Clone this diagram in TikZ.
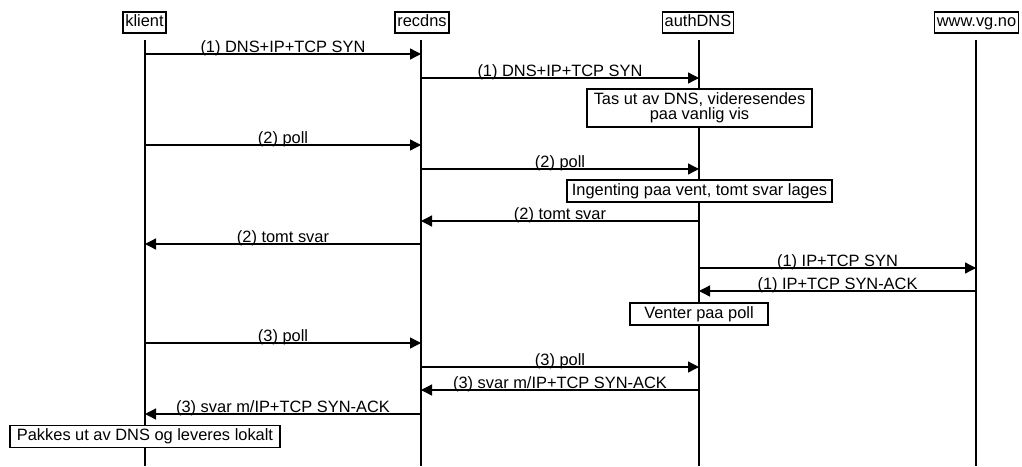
\documentclass[tikz,border=0pt]{standalone}
\usepackage{fontspec}
\setmainfont{Liberation Sans}
\usetikzlibrary{arrows.meta}
\begin{document}
\begin{tikzpicture}[x=1pt,y=-1pt,
  every node/.style={font=\fontsize{16.4}{15}\selectfont},
  actor/.style={draw,line width=1.3pt,inner xsep=2.5pt,inner ysep=0pt,text height=12pt,text depth=3.5pt,minimum height=21pt},
  lifeline/.style={line width=1.4pt},
  note/.style={draw,line width=1.3pt,fill=white,inner sep=0pt,minimum height=22pt,text height=12pt,text depth=3.5pt},
  msg/.style={line width=1.3pt,-{Triangle[length=11pt,width=11pt]}},
  lbl/.style={anchor=base,inner sep=0pt}]
\useasboundingbox (0,0) rectangle (1022,466);
% actors
\node[actor] (K) at (144.5,22.5) {klient};
\node[actor] (R) at (422,22.5) {recdns};
\node[actor] (A) at (698,22.5) {authDNS};
\node[actor] (W) at (976.5,22.5) {www.vg.no};
% lifelines
\coordinate (Kt) at (145,40); \coordinate (Kb) at (145,466);
\coordinate (Rt) at (421,40); \coordinate (Rb) at (421,466);
\coordinate (At) at (699,40); \coordinate (Ab) at (699,466);
\coordinate (Wt) at (976,40); \coordinate (Wb) at (976,466);
\draw[lifeline] (Kt) -- (Kb);
\draw[lifeline] (Rt) -- (Rb);
\draw[lifeline] (At) -- (Ab);
\draw[lifeline] (Wt) -- (Wb);
% messages
\coordinate (m1a) at (Kt |- 0,54); \coordinate (m1b) at (Rt |- 0,54);
\draw[msg] (m1a) -- (m1b) node[lbl,midway,yshift=2pt] {(1) DNS+IP+TCP SYN};
\coordinate (m2a) at (Rt |- 0,78); \coordinate (m2b) at (At |- 0,78);
\draw[msg] (m2a) -- (m2b) node[lbl,midway,yshift=2pt] {(1) DNS+IP+TCP SYN};
\node[note,align=center,minimum width=225pt,minimum height=38pt,text height=,text depth=] (n1) at (699.5,108) {Tas ut av DNS, videresendes\\paa vanlig vis};
\coordinate (m3a) at (Kt |- 0,145); \coordinate (m3b) at (Rt |- 0,145);
\draw[msg] (m3a) -- (m3b) node[lbl,midway,yshift=2pt] {(2) poll};
\coordinate (m4a) at (Rt |- 0,169); \coordinate (m4b) at (At |- 0,169);
\draw[msg] (m4a) -- (m4b) node[lbl,midway,yshift=2pt] {(2) poll};
\node[note,minimum width=265pt] (n2) at (699.5,191) {Ingenting paa vent, tomt svar lages};
\coordinate (m5a) at (At |- 0,221); \coordinate (m5b) at (Rt |- 0,221);
\draw[msg] (m5a) -- (m5b) node[lbl,midway,yshift=2pt] {(2) tomt svar};
\coordinate (m6a) at (Rt |- 0,244); \coordinate (m6b) at (Kt |- 0,244);
\draw[msg] (m6a) -- (m6b) node[lbl,midway,yshift=2pt] {(2) tomt svar};
\coordinate (m7a) at (At |- 0,268); \coordinate (m7b) at (Wt |- 0,268);
\draw[msg] (m7a) -- (m7b) node[lbl,midway,yshift=2pt] {(1) IP+TCP SYN};
\coordinate (m8a) at (Wt |- 0,291); \coordinate (m8b) at (At |- 0,291);
\draw[msg] (m8a) -- (m8b) node[lbl,midway,yshift=2pt] {(1) IP+TCP SYN-ACK};
\node[note,minimum width=138pt] (n3) at (699,314) {Venter paa poll};
\coordinate (m9a) at (Kt |- 0,343); \coordinate (m9b) at (Rt |- 0,343);
\draw[msg] (m9a) -- (m9b) node[lbl,midway,yshift=2pt] {(3) poll};
\coordinate (m10a) at (Rt |- 0,367); \coordinate (m10b) at (At |- 0,367);
\draw[msg] (m10a) -- (m10b) node[lbl,midway,yshift=2pt] {(3) poll};
\coordinate (m11a) at (At |- 0,390); \coordinate (m11b) at (Rt |- 0,390);
\draw[msg] (m11a) -- (m11b) node[lbl,midway,yshift=2pt] {(3) svar m/IP+TCP SYN-ACK};
\coordinate (m12a) at (Rt |- 0,414); \coordinate (m12b) at (Kt |- 0,414);
\draw[msg] (m12a) -- (m12b) node[lbl,midway,yshift=2pt] {(3) svar m/IP+TCP SYN-ACK};
\node[note,minimum width=270pt] (n4) at (145,436.5) {Pakkes ut av DNS og leveres lokalt};
\end{tikzpicture}
\end{document}
